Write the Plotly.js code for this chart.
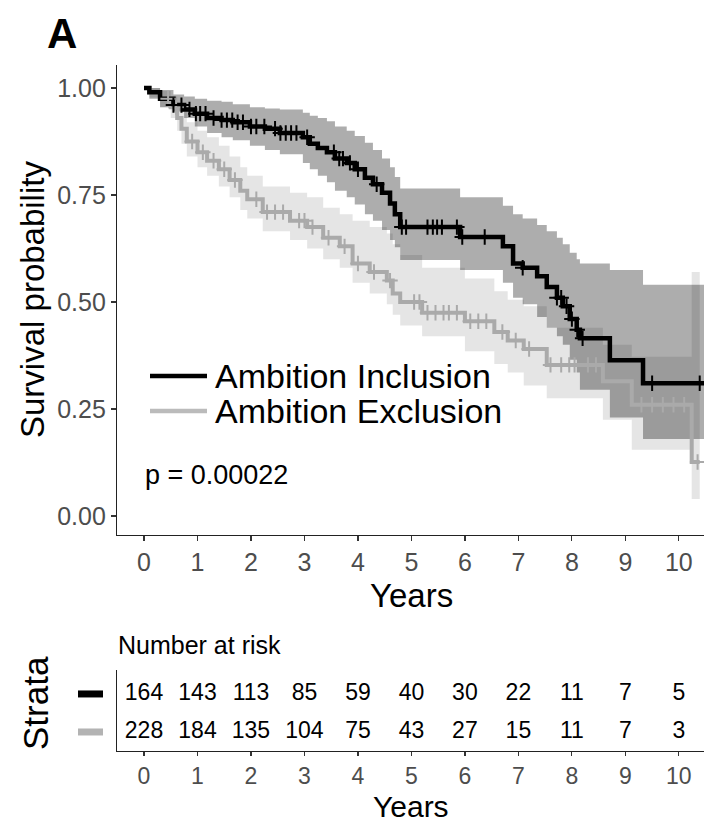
<!DOCTYPE html>
<html>
<head>
<meta charset="utf-8">
<script src="https://cdn.plot.ly/plotly-3.0.1.min.js"></script>
<style>html,body{margin:0;padding:0;background:#fff;}#chart{width:704px;height:824px;}</style>
</head>
<body>
<div id="chart"></div>
<script>
// ---------------- DATA ----------------
// Ambition Inclusion (black): Kaplan-Meier steps with 95% CI
var incTime  = [0, 0.10, 0.30, 0.55, 0.75, 0.95, 1.18, 1.45, 1.66, 1.98, 2.26, 2.54, 2.97, 3.10, 3.25, 3.42, 3.57, 3.79, 3.94, 4.13, 4.28, 4.45, 4.60, 4.69, 4.79, 5.91, 6.71, 6.90, 7.08, 7.35, 7.53, 7.72, 7.83, 7.96, 8.09, 8.15, 8.71, 9.33, 10.47];
var incSurv  = [1.000, 0.990, 0.975, 0.960, 0.950, 0.940, 0.930, 0.925, 0.920, 0.910, 0.905, 0.895, 0.885, 0.870, 0.860, 0.850, 0.835, 0.825, 0.810, 0.790, 0.775, 0.755, 0.730, 0.705, 0.675, 0.652, 0.630, 0.590, 0.580, 0.560, 0.535, 0.510, 0.490, 0.460, 0.435, 0.415, 0.364, 0.310, 0.310];
var incUpper = [1.000, 1.000, 0.995, 0.985, 0.980, 0.975, 0.970, 0.968, 0.962, 0.955, 0.952, 0.950, 0.942, 0.935, 0.930, 0.922, 0.910, 0.900, 0.888, 0.872, 0.855, 0.835, 0.815, 0.792, 0.765, 0.745, 0.725, 0.705, 0.695, 0.680, 0.665, 0.650, 0.635, 0.615, 0.600, 0.590, 0.575, 0.540, 0.540];
var incLower = [1.000, 0.975, 0.955, 0.945, 0.930, 0.910, 0.895, 0.885, 0.878, 0.865, 0.855, 0.845, 0.825, 0.810, 0.795, 0.780, 0.760, 0.745, 0.728, 0.705, 0.690, 0.668, 0.645, 0.628, 0.598, 0.575, 0.545, 0.510, 0.495, 0.465, 0.440, 0.420, 0.400, 0.365, 0.335, 0.295, 0.230, 0.180, 0.180];
var incCensor = [0.55, 0.70, 0.85, 0.97, 1.05, 1.15, 1.30, 1.45, 1.55, 1.65, 1.75, 1.85, 2.00, 2.10, 2.25, 2.45, 2.55, 2.65, 2.75, 2.85, 3.05, 3.55, 3.65, 3.72, 3.85, 4.00, 4.35, 4.82, 4.90, 5.30, 5.40, 5.48, 5.57, 5.85, 5.95, 6.37, 7.08, 7.72, 7.80, 7.90, 8.00, 8.10, 8.20, 9.50, 10.39];

// Ambition Exclusion (grey)
var excTime  = [0, 0.10, 0.30, 0.50, 0.62, 0.70, 0.80, 1.00, 1.18, 1.40, 1.60, 1.80, 1.93, 2.22, 2.73, 3.05, 3.35, 3.66, 3.90, 4.22, 4.54, 4.65, 4.79, 5.20, 6.00, 6.55, 6.80, 7.10, 7.53, 8.58, 9.12, 10.24, 10.39];
var excSurv  = [1.000, 0.990, 0.975, 0.955, 0.930, 0.905, 0.875, 0.850, 0.830, 0.810, 0.785, 0.760, 0.740, 0.710, 0.690, 0.675, 0.650, 0.630, 0.590, 0.570, 0.550, 0.520, 0.500, 0.475, 0.455, 0.430, 0.410, 0.390, 0.353, 0.315, 0.260, 0.126, 0.126];
var excUpper = [1.000, 1.000, 0.993, 0.980, 0.962, 0.945, 0.920, 0.900, 0.885, 0.865, 0.840, 0.815, 0.795, 0.770, 0.755, 0.745, 0.720, 0.705, 0.690, 0.675, 0.660, 0.635, 0.610, 0.580, 0.555, 0.525, 0.505, 0.490, 0.440, 0.400, 0.372, 0.570, 0.570];
var excLower = [1.000, 0.978, 0.955, 0.930, 0.900, 0.870, 0.840, 0.815, 0.795, 0.770, 0.745, 0.715, 0.695, 0.665, 0.645, 0.625, 0.600, 0.580, 0.545, 0.520, 0.495, 0.470, 0.445, 0.420, 0.385, 0.355, 0.335, 0.305, 0.275, 0.225, 0.155, 0.040, 0.040];
var excCensor = [0.45, 0.60, 0.90, 1.10, 1.30, 1.50, 1.70, 2.10, 2.30, 2.45, 2.60, 2.90, 3.00, 3.15, 3.45, 3.75, 4.00, 4.30, 4.60, 5.05, 5.15, 5.30, 5.45, 5.60, 5.70, 5.85, 6.10, 6.25, 6.40, 6.70, 6.95, 7.20, 7.60, 7.80, 7.95, 8.05, 8.30, 8.45, 9.30, 9.50, 9.70, 9.90, 10.10, 10.35];

// Risk table
var riskTimes = [0, 1, 2, 3, 4, 5, 6, 7, 8, 9, 10];
var riskInclusion = [164, 143, 113, 85, 59, 40, 30, 22, 11, 7, 5];
var riskExclusion = [228, 184, 135, 104, 75, 43, 27, 15, 11, 7, 3];

var groupNames = ["Ambition Inclusion", "Ambition Exclusion"];
var yTickVals = [0, 0.25, 0.5, 0.75, 1];
var yTickText = ["0.00", "0.25", "0.50", "0.75", "1.00"];
var xTickVals = [0, 1, 2, 3, 4, 5, 6, 7, 8, 9, 10];
var pValueText = "p = 0.00022";

// ---------------- HELPERS ----------------
function stepAt(times, surv, t) {
  var v = surv[0];
  for (var i = 0; i < times.length; i++) { if (times[i] <= t) v = surv[i]; }
  return v;
}
function px(x) { return x / 704; }
function py(y) { return 1 - y / 824; }

var FONT = "Liberation Sans, Arial, Helvetica, sans-serif";
var BLACK = "#000000";
var GREY = "#aaaaaa";

var traces = [
  // grey CI band
  {x: excTime, y: excLower, mode: "lines", line: {shape: "hv", width: 0}, hoverinfo: "skip", showlegend: false, xaxis: "x", yaxis: "y"},
  {x: excTime, y: excUpper, mode: "lines", line: {shape: "hv", width: 0}, fill: "tonexty", fillcolor: "rgba(170,170,170,0.30)", hoverinfo: "skip", showlegend: false, xaxis: "x", yaxis: "y"},
  // black CI band
  {x: incTime, y: incLower, mode: "lines", line: {shape: "hv", width: 0}, hoverinfo: "skip", showlegend: false, xaxis: "x", yaxis: "y"},
  {x: incTime, y: incUpper, mode: "lines", line: {shape: "hv", width: 0}, fill: "tonexty", fillcolor: "rgba(0,0,0,0.32)", hoverinfo: "skip", showlegend: false, xaxis: "x", yaxis: "y"},
  // curves
  {x: excTime, y: excSurv, mode: "lines", line: {shape: "hv", width: 4, color: GREY}, showlegend: false, xaxis: "x", yaxis: "y"},
  {x: incTime, y: incSurv, mode: "lines", line: {shape: "hv", width: 4.5, color: BLACK}, showlegend: false, xaxis: "x", yaxis: "y"},
  // censor marks
  {x: excCensor, y: excCensor.map(function(t){return stepAt(excTime, excSurv, t);}), mode: "markers",
   marker: {symbol: "cross-thin", size: 11, line: {width: 2, color: GREY}}, showlegend: false, xaxis: "x", yaxis: "y"},
  {x: incCensor, y: incCensor.map(function(t){return stepAt(incTime, incSurv, t);}), mode: "markers",
   marker: {symbol: "cross-thin", size: 11, line: {width: 2, color: BLACK}}, showlegend: false, xaxis: "x", yaxis: "y"},
  // risk table
  {x: riskTimes, y: riskTimes.map(function(){return 2;}), text: riskInclusion.map(String), mode: "text",
   textfont: {family: FONT, size: 23, color: "#000"}, showlegend: false, xaxis: "x2", yaxis: "y2", hoverinfo: "skip"},
  {x: riskTimes, y: riskTimes.map(function(){return 1;}), text: riskExclusion.map(String), mode: "text",
   textfont: {family: FONT, size: 23, color: "#000"}, showlegend: false, xaxis: "x2", yaxis: "y2", hoverinfo: "skip"}
];

var axisCommon = {
  showgrid: false, zeroline: false, showline: true, linecolor: "#222", linewidth: 1.2,
  ticks: "outside", ticklen: 5, tickwidth: 1.2, tickcolor: "#333",
  tickfont: {family: FONT, size: 25, color: "#4d4d4d"}, automargin: false, fixedrange: true
};

var layout = {
  width: 704, height: 824,
  margin: {l: 0, r: 0, t: 0, b: 0},
  paper_bgcolor: "#fff", plot_bgcolor: "#fff",
  showlegend: false,
  font: {family: FONT},
  xaxis: Object.assign({}, axisCommon, {domain: [px(117), 1], range: [-0.505, 10.47], tickvals: xTickVals, anchor: "y"}),
  yaxis: Object.assign({}, axisCommon, {domain: [py(535), py(65)], range: [-0.0444, 1.0537], tickvals: yTickVals, ticktext: yTickText, anchor: "x"}),
  xaxis2: Object.assign({}, axisCommon, {domain: [px(117), 1], range: [-0.505, 10.47], tickvals: xTickVals, anchor: "y2", ticklen: 4, tickfont: {family: FONT, size: 23, color: "#4d4d4d"}}),
  yaxis2: Object.assign({}, axisCommon, {domain: [py(751), py(670)], range: [0.5, 2.63], ticks: "", showticklabels: false, anchor: "x2"}),
  shapes: [
    // legend keys
    {type: "line", xref: "paper", yref: "paper", x0: px(150), x1: px(207), y0: py(376), y1: py(376), line: {color: BLACK, width: 4.5}},
    {type: "line", xref: "paper", yref: "paper", x0: px(150), x1: px(207), y0: py(411), y1: py(411), line: {color: "#bbbbbb", width: 4.5}},
    // risk table strata keys
    {type: "line", xref: "paper", yref: "y2", x0: px(78), x1: px(103), y0: 2, y1: 2, line: {color: BLACK, width: 7}},
    {type: "line", xref: "paper", yref: "y2", x0: px(78), x1: px(103), y0: 1, y1: 1, line: {color: "#b3b3b3", width: 7}}
  ],
  annotations: [
    {text: "<b>A</b>", xref: "paper", yref: "paper", x: px(62), y: py(33), xanchor: "center", yanchor: "middle", showarrow: false, font: {family: FONT, size: 42, color: "#000"}},
    {text: "Survival probability", xref: "paper", yref: "paper", x: px(32), y: py(300), xanchor: "center", yanchor: "middle", textangle: -90, showarrow: false, font: {family: FONT, size: 33, color: "#000"}},
    {text: "Years", xref: "paper", yref: "paper", x: px(411), y: py(595), xanchor: "center", yanchor: "middle", showarrow: false, font: {family: FONT, size: 33, color: "#000"}},
    {text: groupNames[0], xref: "paper", yref: "paper", x: px(213), y: py(376), xanchor: "left", yanchor: "middle", showarrow: false, font: {family: FONT, size: 34, color: "#000"}},
    {text: groupNames[1], xref: "paper", yref: "paper", x: px(213), y: py(411), xanchor: "left", yanchor: "middle", showarrow: false, font: {family: FONT, size: 34, color: "#000"}},
    {text: pValueText, xref: "paper", yref: "paper", x: px(143), y: py(475), xanchor: "left", yanchor: "middle", showarrow: false, font: {family: FONT, size: 27, color: "#000"}},
    {text: "Number at risk", xref: "paper", yref: "paper", x: px(116), y: py(645), xanchor: "left", yanchor: "middle", showarrow: false, font: {family: FONT, size: 25, color: "#000"}},
    {text: "Strata", xref: "paper", yref: "paper", x: px(35), y: py(703), xanchor: "center", yanchor: "middle", textangle: -90, showarrow: false, font: {family: FONT, size: 35, color: "#000"}},
    {text: "Years", xref: "paper", yref: "paper", x: px(411), y: py(806), xanchor: "center", yanchor: "middle", showarrow: false, font: {family: FONT, size: 30, color: "#000"}}
  ]
};

Plotly.newPlot("chart", traces, layout, {displayModeBar: false, staticPlot: true});
</script>
</body>
</html>
